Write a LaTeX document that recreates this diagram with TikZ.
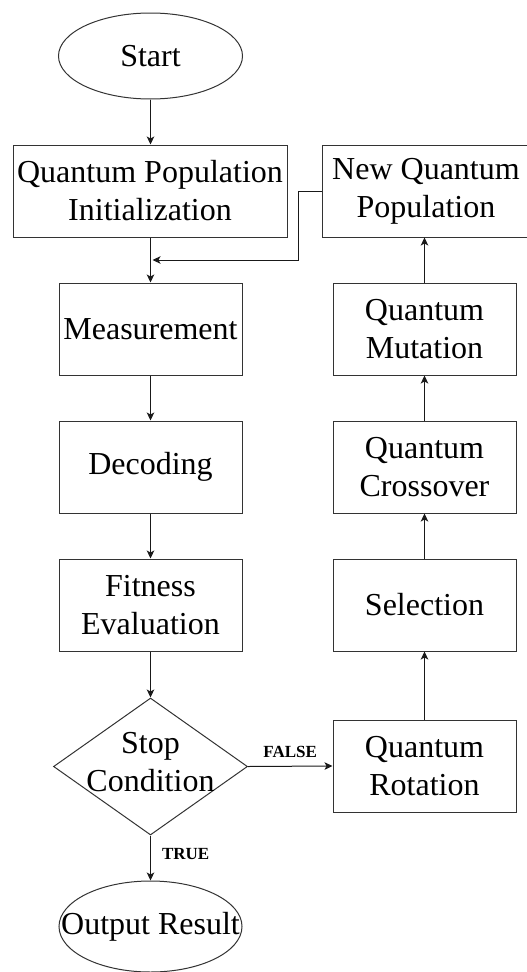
\documentclass[tikz,border=0pt]{standalone}
\usepackage{fontspec}
\setmainfont{Liberation Serif}
\usetikzlibrary{shapes.geometric,arrows.meta}
\begin{document}
\begin{tikzpicture}[x=1pt,y=-1pt,
  every node/.style={font=\fontsize{32}{38}\selectfont, align=center, inner sep=0pt, text=black},
  box/.style={draw=black!80, line width=1pt, rectangle, minimum width=183pt, minimum height=92pt},
  term/.style={draw=black!80, line width=1pt, ellipse},
  cond/.style={draw=black!80, line width=1pt, diamond, minimum width=194pt, minimum height=137pt},
  arr/.style={draw=black!90, line width=1pt, -{Stealth[length=8pt,width=7.5pt,inset=2pt]}},
  lbl/.style={font=\fontsize{17}{20}\selectfont\bfseries}
]
\useasboundingbox (0,0) rectangle (527,972);
% left column
\node[term, minimum width=184pt, minimum height=86pt] (start) at (150.5,56) {Start};
\node[box, minimum width=274pt] (qpi) at (150,191) {Quantum Population\\Initialization};
\node[box] (meas) at (150.5,329) {Measurement};
\node[box] (dec) at (150.5,467) {Decoding};
\node[box] (fit) at (150.5,605) {Fitness\\Evaluation};
\node[cond] (stop) at (150.5,766.5) {};
\node at (150.5,762) {Stop\\Condition};
\node[term, minimum width=183pt, minimum height=91pt] (out) at (150.5,926.5) {};
\node at (150.5,926.5) {Output Result};
% right column
\node[box, minimum width=208pt] (nqp) at (426,191) {New Quantum\\Population};
\node[box] (mut) at (424.5,329) {Quantum\\Mutation};
\node[box] (cross) at (424.5,467) {Quantum\\Crossover};
\node[box] (sel) at (424.5,605) {Selection};
\node[box] (rot) at (424.5,766) {Quantum\\Rotation};
% connectors
\draw[arr] (start.south) -- (qpi.north -| start.south);
\draw[arr] (start.south |- qpi.south) -- (start.south |- meas.north);
\draw[arr] (meas) -- (dec);
\draw[arr] (dec) -- (fit);
\draw[arr] (fit) -- (stop.north);
\draw[arr] (stop.south) -- node[lbl, anchor=west, xshift=11pt, yshift=4pt] {TRUE} (out.north);
\draw[arr] (stop.east) -- node[lbl, above=8pt] {FALSE} (rot.west);
\draw[arr] (rot) -- (sel);
\draw[arr] (sel) -- (cross);
\draw[arr] (cross) -- (mut);
\draw[arr] (mut.north) -- (mut.north |- nqp.south);
\coordinate (join) at (152.5,260);
\draw[arr] (nqp.west) -- ++(-23,0) |- (join);
\end{tikzpicture}
\end{document}
